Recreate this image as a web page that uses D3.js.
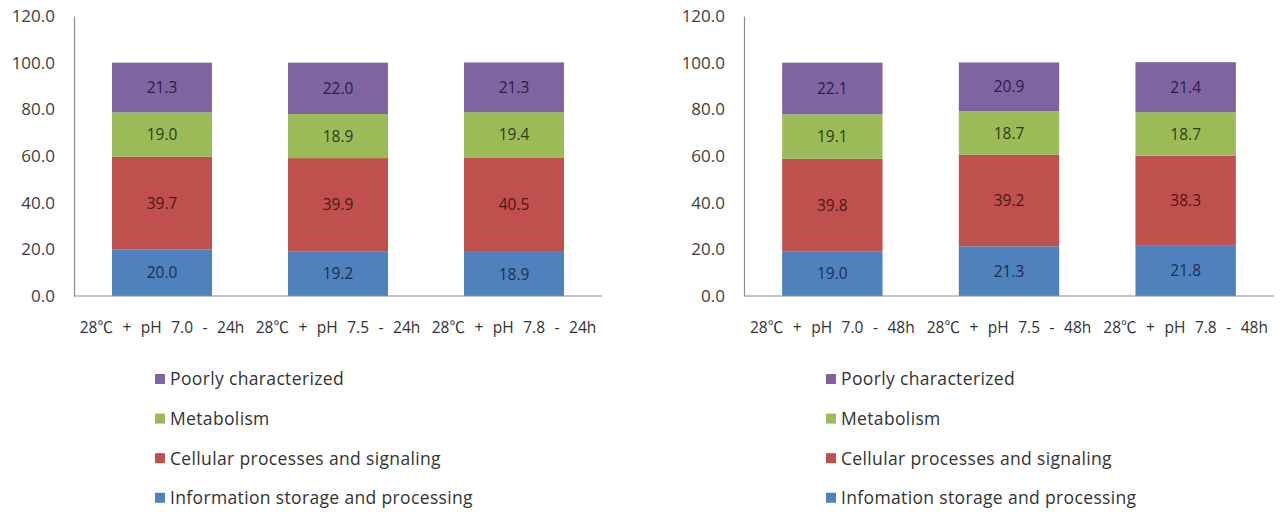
<!DOCTYPE html>
<html>
<head>
<meta charset="utf-8">
<script src="https://cdn.jsdelivr.net/npm/d3@7"></script>
<style>
  body { margin: 0; background: #fff; }
  svg text { font-family: "Open Sans", "Noto Sans CJK KR", sans-serif; }
</style>
</head>
<body>
<svg id="chart" width="1287" height="512"></svg>
<script>
// Functional categories (stack order, bottom to top)
const seriesNames = ["Information storage and processing", "Cellular processes and signaling", "Metabolism", "Poorly characterized"];
const legendNames = {
  left: ["Poorly characterized", "Metabolism", "Cellular processes and signaling", "Information storage and processing"],
  right: ["Poorly characterized", "Metabolism", "Cellular processes and signaling", "Infomation storage and processing"]
};
const seriesColors = ["#4F81BD", "#C0504D", "#9BBB59", "#8064A2"];
const labelColors = ["#1c2f52", "#4e1614", "#2f3d15", "#2a1c44"];

const yTicks = [0, 20, 40, 60, 80, 100, 120];

// 24 h samples
const cats24 = ["28℃ + pH 7.0 - 24h", "28℃ + pH 7.5 - 24h", "28℃ + pH 7.8 - 24h"];
const info24 = [20.0, 19.2, 18.9];
const cell24 = [39.7, 39.9, 40.5];
const metab24 = [19.0, 18.9, 19.4];
const poor24 = [21.3, 22.0, 21.3];

// 48 h samples
const cats48 = ["28℃ + pH 7.0 - 48h", "28℃ + pH 7.5 - 48h", "28℃ + pH 7.8 - 48h"];
const info48 = [19.0, 21.3, 21.8];
const cell48 = [39.8, 39.2, 38.3];
const metab48 = [19.1, 18.7, 18.7];
const poor48 = [22.1, 20.9, 21.4];

const svg = d3.select("#chart");

function panel(opts) {
  const { x0, x1, cats, series, legend, legendX } = opts;
  const top = 16, bottom = 296;
  const g = svg.append("g");

  const x = d3.scaleBand().domain(cats).range([x0, x1]).paddingInner(76 / 176).paddingOuter(38 / 176);
  const y = d3.scaleLinear().domain([0, 120]).range([bottom, top]);

  // stacked rows
  const rows = cats.map((c, i) => {
    const r = { cat: c };
    seriesNames.forEach((s, k) => r[s] = series[k][i]);
    return r;
  });
  const stacked = d3.stack().keys(seriesNames)(rows);

  stacked.forEach((layer, k) => {
    g.append("g").selectAll("rect").data(layer).join("rect")
      .attr("x", d => x(d.data.cat))
      .attr("width", x.bandwidth())
      .attr("y", d => y(d[1]))
      .attr("height", d => y(d[0]) - y(d[1]))
      .attr("fill", seriesColors[k]);
    g.append("g").selectAll("text").data(layer).join("text")
      .attr("x", d => x(d.data.cat) + x.bandwidth() / 2)
      .attr("y", d => (y(d[0]) + y(d[1])) / 2)
      .attr("dy", "0.36em")
      .attr("text-anchor", "middle")
      .attr("font-size", 15.5)
      .attr("fill", labelColors[k])
      .text(d => d3.format(".1f")(d[1] - d[0]));
  });

  // y axis
  const yAxis = g.append("g").attr("transform", `translate(${x0},0)`)
    .call(d3.axisLeft(y).tickValues(yTicks).tickFormat(d3.format(".1f")).tickSize(0).tickPadding(19));
  yAxis.select(".domain").attr("stroke", "#8c8c8c").attr("stroke-width", 1.2);
  yAxis.selectAll("text").attr("font-size", 17).attr("fill", "#404040")
    .style("font-family", "'Open Sans', 'Noto Sans CJK KR', sans-serif");

  // x axis
  const xAxis = g.append("g").attr("transform", `translate(0,${bottom})`)
    .call(d3.axisBottom(x).tickSize(0).tickPadding(26));
  xAxis.select(".domain").attr("stroke", "#8c8c8c").attr("stroke-width", 1.2)
    .attr("d", `M${x0},0H${x1}`);
  xAxis.selectAll("text").attr("font-size", 15.5).attr("fill", "#333")
    .attr("word-spacing", 5.5)
    .style("font-family", "'Open Sans', 'Noto Sans CJK KR', sans-serif");

  // legend (top to bottom: reverse stack order)
  const leg = g.append("g").attr("transform", `translate(${legendX},0)`);
  legend.forEach((name, i) => {
    const k = seriesNames.length - 1 - i;
    const cy = 379 + i * 39.6;
    leg.append("rect").attr("x", 0).attr("y", cy - 5).attr("width", 10).attr("height", 10)
      .attr("fill", seriesColors[k]);
    leg.append("text").attr("x", 15).attr("y", cy).attr("dy", "0.36em")
      .attr("font-size", 17.5).attr("letter-spacing", 0.35).attr("fill", "#333").text(name);
  });
}

panel({ x0: 74, x1: 602, cats: cats24, series: [info24, cell24, metab24, poor24], legend: legendNames.left, legendX: 155 });
panel({ x0: 744, x1: 1274, cats: cats48, series: [info48, cell48, metab48, poor48], legend: legendNames.right, legendX: 826 });
</script>
</body>
</html>
